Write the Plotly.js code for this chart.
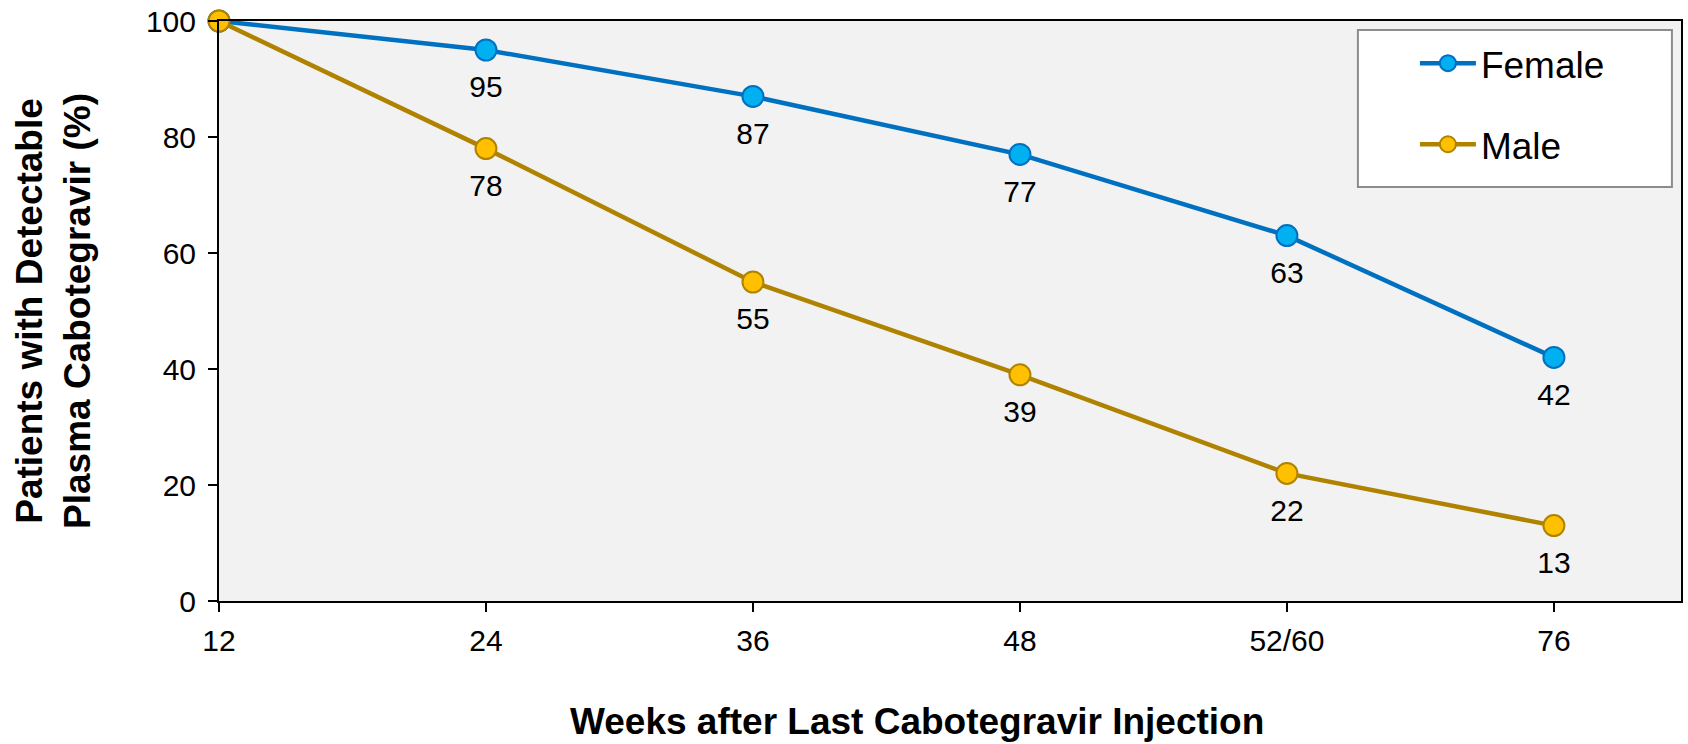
<!DOCTYPE html>
<html>
<head>
<meta charset="utf-8">
<script src="https://cdn.plot.ly/plotly-3.0.1.min.js"></script>
<style>html,body{margin:0;padding:0;background:#fff;}#chart{width:1688px;height:744px;}</style>
</head>
<body>
<div id="chart"></div>
<script>
const weeks = ["12", "24", "36", "48", "52/60", "76"];
const female = [100, 95, 87, 77, 63, 42];
const male = [100, 78, 55, 39, 22, 13];
const yTicks = [0, 20, 40, 60, 80, 100];

const FONT = "Liberation Sans, Arial, sans-serif";
function labels(arr){ return arr.map((v,i)=> i===0 ? "" : String(v)); }

function series(name, vals, lineColor, fillColor, grp){
  return {
    x: weeks, y: vals, name: name, type: "scatter", mode: "lines+markers",
    line: {color: lineColor, width: 4.5},
    marker: {size: 21, color: fillColor, line: {color: lineColor, width: 2}},
    cliponaxis: false, legendgroup: grp
  };
}
function labelTrace(vals, grp){
  return {
    x: weeks, y: vals, type: "scatter", mode: "markers+text",
    text: labels(vals), textposition: "bottom center",
    textfont: {family: FONT, size: 30, color: "#000"},
    marker: {size: 38, opacity: 0},
    cliponaxis: false, showlegend: false, hoverinfo: "skip", legendgroup: grp
  };
}

const traces = [
  series("Female", female, "#0070C0", "#00B0F0", "f"),
  series("Male", male, "#AF8200", "#FFC000", "m"),
  labelTrace(female, "f"),
  labelTrace(male, "m")
];

const layout = {
  width: 1688, height: 744,
  margin: {l: 219, r: 7, t: 21, b: 143, pad: 0},
  paper_bgcolor: "#FFFFFF",
  plot_bgcolor: "#F2F2F2",
  font: {family: FONT, color: "#000"},
  showlegend: true,
  legend: {
    x: 0.818, xanchor: "left", y: 0.98, yanchor: "top",
    bgcolor: "rgba(0,0,0,0)", borderwidth: 0,
    font: {family: FONT, size: 37, color: "#000"},
    traceorder: "grouped", tracegroupgap: 30, itemwidth: 56
  },
  xaxis: {
    type: "category", range: [0, 5.476],
    tickvals: weeks, ticktext: weeks,
    showgrid: false, zeroline: false,
    showline: true, linecolor: "#000", linewidth: 2, mirror: true,
    ticks: "outside", ticklen: 9, tickwidth: 2, tickcolor: "#000",
    ticklabelstandoff: 3,
    tickfont: {family: FONT, size: 30, color: "#000"}
  },
  yaxis: {
    range: [0, 100], tickvals: yTicks,
    showgrid: false, zeroline: false,
    showline: true, linecolor: "#000", linewidth: 2, mirror: true,
    ticks: "outside", ticklen: 9, tickwidth: 2, tickcolor: "#000",
    ticklabelstandoff: 6,
    tickfont: {family: FONT, size: 30, color: "#000"},
    title: {text: "<b>Patients with Detectable<br>Plasma Cabotegravir (%)</b>",
            font: {family: FONT, size: 37, color: "#000"}, standoff: 44}
  },
  shapes: [
    {type: "rect", xref: "paper", yref: "paper", x0: 0.779, x1: 0.9938, y0: 0.7138, y1: 0.9845,
     fillcolor: "#FFFFFF", line: {color: "#8C8C8C", width: 2}, layer: "below"}
  ],
  annotations: [
    {text: "<b>Weeks after Last Cabotegravir Injection</b>", xref: "paper", yref: "paper",
     x: (917 - 219) / 1462, y: -(721 - 601) / 580, xanchor: "center", yanchor: "middle",
     showarrow: false, font: {family: FONT, size: 37, color: "#000"}}
  ]
};

Plotly.newPlot("chart", traces, layout, {displayModeBar: false, staticPlot: true});
</script>
</body>
</html>
